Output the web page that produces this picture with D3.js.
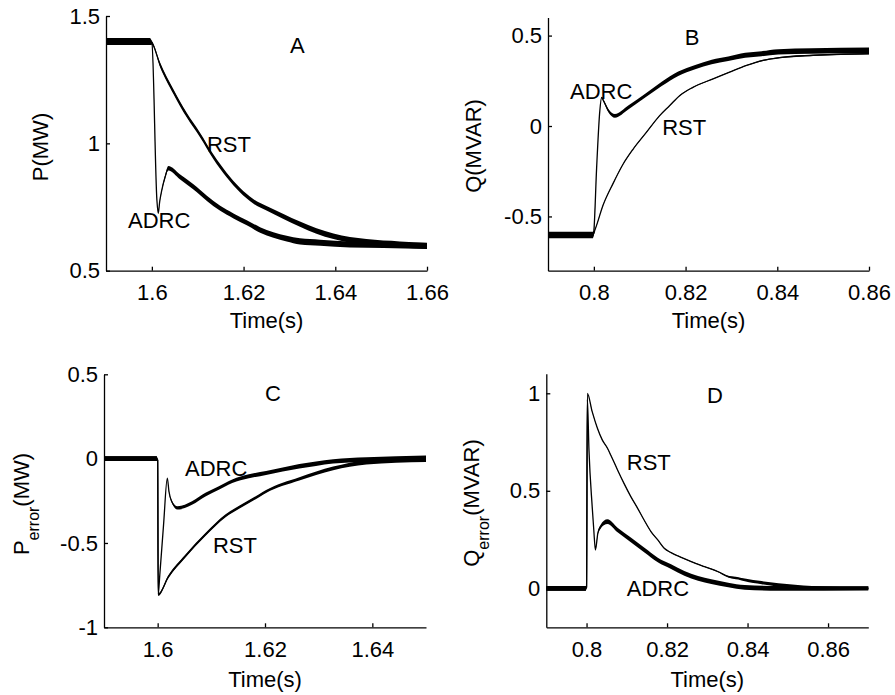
<!DOCTYPE html>
<html><head><meta charset="utf-8">
<script src="https://cdn.jsdelivr.net/npm/d3@7"></script>
<style>
body{margin:0;background:#fff}
svg{display:block}
text{font-family:"Liberation Sans",Arial,Helvetica,sans-serif;fill:#000}
</style>
</head><body>
<svg id="chart" width="895" height="695"></svg>
<script>
// ---------- data: [time, value, noise half-width] ----------
const rstA = [
 [1.59,1.40,0.014],[1.5995,1.40,0.014],[1.6,1.395,0.008],[1.6018,1.308,0.009],[1.6047,1.203,0.009],
 [1.6076,1.111,0.009],[1.6105,1.033,0.009],[1.6134,0.948,0.009],[1.6163,0.876,0.009],[1.6192,0.817,0.009],
 [1.6221,0.773,0.009],[1.625,0.745,0.009],[1.6287,0.713,0.01],[1.6323,0.683,0.01],[1.6359,0.656,0.011],
 [1.6396,0.635,0.011],[1.6468,0.612,0.012],[1.6541,0.603,0.012],[1.66,0.598,0.012]
];
const adrcA = [
 [1.59,1.40,0.014],[1.5995,1.40,0.014],[1.6,1.395,0],[1.6011,0.777,0],[1.6014,0.725,0],
 [1.6017,0.770,0.002],[1.6021,0.810,0.004],[1.6029,0.869,0.007],[1.6036,0.902,0.009],[1.6061,0.869,0.01],
 [1.609,0.830,0.01],[1.612,0.784,0.01],[1.6149,0.745,0.01],[1.6178,0.715,0.01],[1.6207,0.688,0.01],
 [1.6236,0.660,0.011],[1.6265,0.640,0.011],[1.6294,0.626,0.011],[1.6323,0.615,0.012],[1.6367,0.610,0.012],
 [1.6432,0.603,0.012],[1.6505,0.601,0.012],[1.66,0.597,0.012]
];
const rstB = [
 [0.79,-0.60,0.016],[0.7998,-0.60,0.016],[0.8003,-0.57,0.002],[0.802,-0.438,0.002],[0.8042,-0.317,0.002],
 [0.8063,-0.214,0.002],[0.8085,-0.13,0.002],[0.8114,-0.037,0.002],[0.8143,0.056,0.002],[0.8165,0.112,0.002],
 [0.8187,0.168,0.002],[0.8216,0.214,0.002],[0.826,0.261,0.002],[0.8296,0.298,0.002],[0.8333,0.335,0.002],
 [0.8369,0.363,0.003],[0.8405,0.378,0.004],[0.8478,0.391,0.004],[0.86,0.40,0.004]
];
const adrcB = [
 [0.79,-0.605,0.016],[0.7998,-0.605,0.016],[0.8,-0.58,0],[0.8006,-0.233,0],[0.8013,0.084,0],
 [0.8017,0.158,0.003],[0.8021,0.14,0.006],[0.8032,0.084,0.009],[0.8046,0.056,0.01],[0.8075,0.102,0.011],
 [0.8112,0.168,0.011],[0.8148,0.233,0.012],[0.8184,0.289,0.012],[0.8221,0.326,0.012],[0.8257,0.354,0.013],
 [0.8293,0.372,0.013],[0.833,0.391,0.014],[0.8366,0.40,0.014],[0.8402,0.41,0.015],[0.8475,0.415,0.015],
 [0.86,0.419,0.015]
];
const adrcC = [
 [1.59,0,0.014],[1.5998,0,0.014],[1.6,-0.01,0],[1.6001,-0.806,0],[1.6004,-0.688,0],
 [1.6011,-0.391,0],[1.6018,-0.115,0],[1.6021,-0.194,0.003],[1.6026,-0.253,0.007],[1.6037,-0.292,0.01],
 [1.6064,-0.263,0.011],[1.6089,-0.213,0.011],[1.6114,-0.174,0.011],[1.6139,-0.134,0.011],[1.617,-0.105,0.012],
 [1.6202,-0.085,0.012],[1.6233,-0.065,0.012],[1.6264,-0.045,0.013],[1.6295,-0.030,0.013],[1.6327,-0.016,0.013],
 [1.6389,-0.006,0.014],[1.65,0.004,0.015]
];
const rstC = [
 [1.59,0,0.014],[1.5998,0,0.014],[1.6,-0.01,0.002],[1.6001,-0.806,0.008],[1.602,-0.70,0.009],
 [1.6051,-0.58,0.009],[1.6089,-0.45,0.009],[1.6126,-0.34,0.009],[1.6151,-0.29,0.009],[1.6189,-0.22,0.009],
 [1.6202,-0.195,0.009],[1.6264,-0.12,0.01],[1.6327,-0.058,0.011],[1.6389,-0.022,0.013],[1.65,-0.006,0.014]
];
const rstD = [
 [0.79,0,0.012],[0.7998,0,0.012],[0.8,0.005,0],[0.8002,1.0,0],[0.8014,0.906,0.002],
 [0.8027,0.821,0.002],[0.8039,0.761,0.002],[0.8052,0.718,0.002],[0.806,0.684,0.002],[0.8077,0.607,0.002],
 [0.8093,0.538,0.002],[0.811,0.470,0.002],[0.8127,0.410,0.002],[0.8143,0.350,0.002],[0.816,0.291,0.002],
 [0.8177,0.248,0.002],[0.8193,0.205,0.002],[0.821,0.183,0.002],[0.8227,0.166,0.002],[0.826,0.137,0.002],
 [0.8293,0.111,0.002],[0.8327,0.085,0.003],[0.8352,0.060,0.004],[0.8377,0.051,0.006],[0.8393,0.043,0.007],
 [0.8435,0.029,0.008],[0.8477,0.017,0.009],[0.8518,0.009,0.009],[0.856,0.003,0.009],[0.87,0,0.009]
];
const adrcD = [
 [0.79,0,0.012],[0.7998,0,0.012],[0.8,0.005,0],[0.8002,0.97,0],[0.8006,0.709,0],
 [0.8014,0.419,0],[0.8018,0.299,0],[0.8022,0.197,0.003],[0.8028,0.282,0.007],[0.8035,0.316,0.01],
 [0.8043,0.335,0.012],[0.8052,0.342,0.012],[0.8077,0.299,0.012],[0.811,0.248,0.012],[0.8143,0.197,0.012],
 [0.8177,0.145,0.012],[0.821,0.111,0.012],[0.8243,0.077,0.012],[0.8277,0.051,0.012],[0.831,0.034,0.012],
 [0.8352,0.017,0.012],[0.8393,0.005,0.012],[0.8477,0,0.012],[0.87,0,0.011]
];

// ---------- tick labels ----------
const xTicksA = [1.6,1.62,1.64,1.66];
const yTicksA = [0.5,1,1.5];
const xTicksB = [0.8,0.82,0.84,0.86];
const yTicksB = [-0.5,0,0.5];
const xTicksC = [1.6,1.62,1.64];
const yTicksC = [-1,-0.5,0,0.5];
const xTicksD = [0.8,0.82,0.84,0.86];
const yTicksD = [0,0.5,1];

// ---------- layout ----------
const FS = 22;
const panels = [
 {name:"A", xDomain:[1.59,1.66], yDomain:[0.5,1.5], xRange:[106,427], yRange:[270.7,16],
  xTicks:xTicksA, yTicks:yTicksA, series:[rstA,adrcA],
  yLabel:{main:"P", sub:null, rest:"(MW)", x:48, y:147}, xLabelY:328,
  notes:[{t:"A",x:1.6317,y:1.386,anchor:"middle"},{t:"RST",x:1.6120,y:0.997,anchor:"start"},{t:"ADRC",x:1.5948,y:0.699,anchor:"start"}]},
 {name:"B", xDomain:[0.79,0.86], yDomain:[-0.8,0.6], xRange:[548,869], yRange:[270.7,17.5],
  xTicks:xTicksB, yTicks:yTicksB, series:[rstB,adrcB],
  yLabel:{main:"Q", sub:null, rest:"(MVAR)", x:481, y:146}, xLabelY:328,
  notes:[{t:"B",x:0.8214,y:0.492,anchor:"middle"},{t:"ADRC",x:0.7948,y:0.194,anchor:"start"},{t:"RST",x:0.8149,y:-0.005,anchor:"start"}]},
 {name:"C", xDomain:[1.59,1.65], yDomain:[-1,0.5], xRange:[104,426], yRange:[627.3,374.3],
  xTicks:xTicksC, yTicks:yTicksC, series:[rstC,adrcC],
  yLabel:{main:"P", sub:"error", rest:"(MW)", x:29, y:504}, xLabelY:687,
  notes:[{t:"C",x:1.6215,y:0.389,anchor:"middle"},{t:"ADRC",x:1.6051,y:-0.055,anchor:"start"},{t:"RST",x:1.6103,y:-0.512,anchor:"start"}]},
 {name:"D", xDomain:[0.79,0.87], yDomain:[-0.2,1.1], xRange:[546.3,868.3], yRange:[627.3,373.8],
  xTicks:xTicksD, yTicks:yTicksD, series:[rstD,adrcD],
  yLabel:{main:"Q", sub:"error", rest:"(MVAR)", x:479, y:503}, xLabelY:687,
  notes:[{t:"D",x:0.8319,y:0.991,anchor:"middle"},{t:"RST",x:0.81,y:0.648,anchor:"start"},{t:"ADRC",x:0.81,y:0.002,anchor:"start"}]}
];

const svg = d3.select("#chart");
const fmt = d => String(d);

panels.forEach(p => {
  const x = d3.scaleLinear().domain(p.xDomain).range(p.xRange);
  const y = d3.scaleLinear().domain(p.yDomain).range(p.yRange);
  const g = svg.append("g");

  // series: noise band + centre line
  const band = d3.area().curve(d3.curveMonotoneX)
    .x(d => x(d[0])).y0(d => y(d[1] - d[2])).y1(d => y(d[1] + d[2]));
  const line = d3.line().curve(d3.curveMonotoneX).x(d => x(d[0])).y(d => y(d[1]));
  p.series.forEach(s => {
    g.append("path").attr("d", band(s)).attr("fill", "#000").attr("stroke", "none");
    g.append("path").attr("d", line(s)).attr("fill", "none").attr("stroke", "#000")
      .attr("stroke-width", 1.3).attr("stroke-linejoin", "round");
  });

  // axes
  const xa = g.append("g").attr("transform", `translate(0,${p.yRange[0]})`)
    .call(d3.axisBottom(x).tickValues(p.xTicks).tickFormat(fmt).tickSizeInner(-4).tickSizeOuter(0).tickPadding(14));
  const ya = g.append("g").attr("transform", `translate(${p.xRange[0]},0)`)
    .call(d3.axisLeft(y).tickValues(p.yTicks).tickFormat(fmt).tickSizeInner(-4).tickSizeOuter(0).tickPadding(6));
  [xa, ya].forEach(a => {
    a.attr("font-size", FS).attr("font-family", null);
    a.selectAll("path,line").attr("stroke", "#000").attr("stroke-width", 1.3);
    a.selectAll("text").attr("fill", "#000");
  });

  // x label
  g.append("text").attr("x", (p.xRange[0] + p.xRange[1]) / 2).attr("y", p.xLabelY)
    .attr("text-anchor", "middle").attr("font-size", FS).text("Time(s)");

  // y label
  const yl = g.append("text").attr("transform", `translate(${p.yLabel.x},${p.yLabel.y}) rotate(-90)`)
    .attr("text-anchor", "middle").attr("font-size", FS);
  yl.append("tspan").text(p.yLabel.main);
  if (p.yLabel.sub) {
    yl.append("tspan").attr("font-size", 16).attr("dy", 10).text(p.yLabel.sub);
    yl.append("tspan").attr("dy", -10).text(p.yLabel.rest);
  } else {
    yl.append("tspan").text(p.yLabel.rest);
  }

  // annotations
  p.notes.forEach(n => {
    g.append("text").attr("x", x(n.x)).attr("y", y(n.y)).attr("dy", "0.36em")
      .attr("text-anchor", n.anchor).attr("font-size", FS).text(n.t);
  });
});
</script>
</body></html>
